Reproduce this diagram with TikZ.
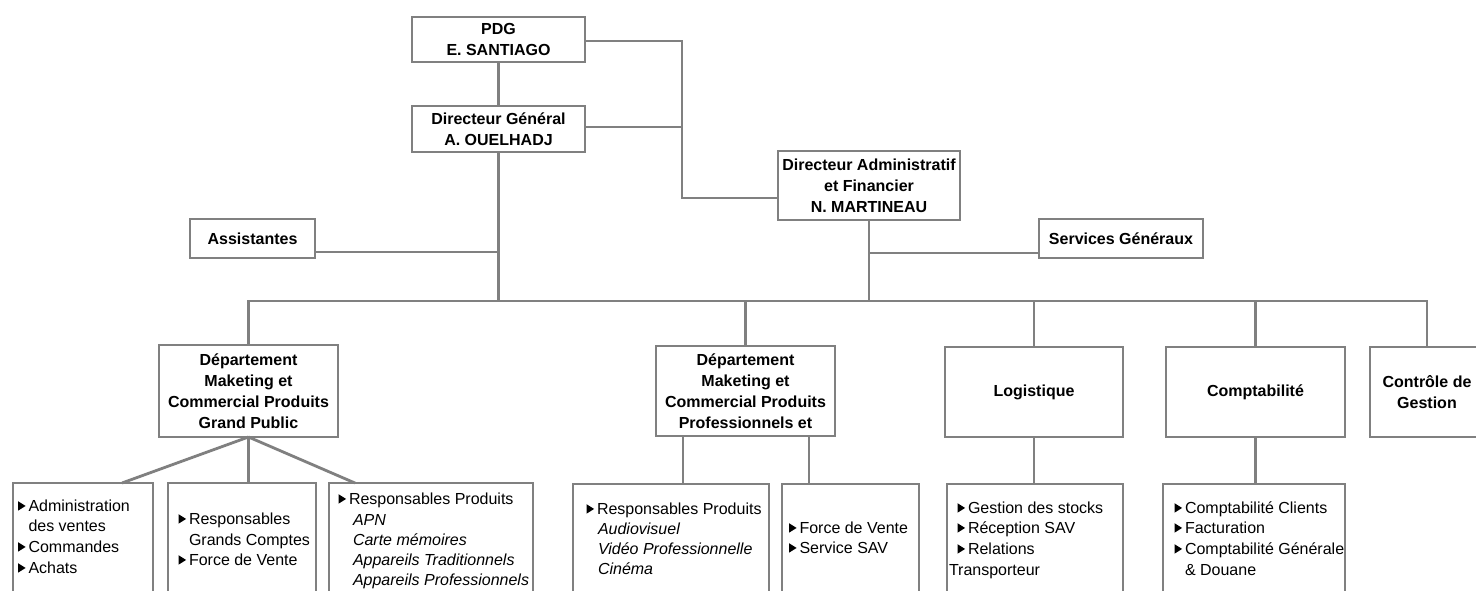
\documentclass[tikz,border=0pt]{standalone}
\usepackage{fontspec}
\setmainfont{Liberation Sans}
\newcommand\bul{\makebox[10.5pt][l]{\tikz[baseline=0pt]\fill[black] (0pt,0.3pt) -- (0pt,9.8pt) -- (7.6pt,5.05pt) -- cycle;}}
\definecolor{lgray}{RGB}{128,128,128}
\tikzset{
  ln/.style={draw=lgray, line width=2.8pt, line join=miter},
  bx/.style={draw=lgray, line width=2.8pt, fill=white, inner sep=0pt, outer sep=0pt,
             align=center, font=\fontsize{16}{21}\selectfont\bfseries},
  sub/.style={draw=lgray, line width=2.8pt, fill=white, inner sep=0pt, outer sep=0pt,
             minimum height=127pt},
  lst/.style={inner sep=0pt, outer sep=0pt, anchor=base west, font=\fontsize{16}{20}\selectfont},
  itl/.style={lst, font=\fontsize{16}{20}\selectfont\itshape},
}
\begin{document}
\begin{tikzpicture}[x=1pt,y=-1pt]
\path[use as bounding box, fill=white] (0,0) rectangle (1476,590);
\clip (0,0) rectangle (1476,590);

% top boxes
\node[bx, minimum width=173pt, minimum height=45pt] (pdg) at (498.5,39.5) {PDG\\E. SANTIAGO};
\node[bx, minimum width=173pt, minimum height=46pt] (dg) at (498.5,129) {Directeur Général\\A. OUELHADJ};
\node[bx, minimum width=182pt, minimum height=69pt] (daf) at (869,185.5) {Directeur Administratif\\et Financier\\N. MARTINEAU};
\node[bx, minimum width=125pt, minimum height=39pt] (ass) at (252.5,238.5) {Assistantes};
\node[bx, minimum width=164pt, minimum height=39pt] (serv) at (1121,238.5) {Services Généraux};

% department boxes
\node[bx, minimum width=179pt, minimum height=92pt] (dgp) at (248.5,391) {Département\\Maketing et\\Commercial Produits\\Grand Public};
\node[bx, minimum width=179pt, minimum height=90pt] (pro) at (745.5,391) {Département\\Maketing et\\Commercial Produits\\Professionnels et};
\node[bx, minimum width=178pt, minimum height=90pt] (log) at (1034,392) {Logistique};
\node[bx, minimum width=179pt, minimum height=90pt] (comp) at (1255.5,392) {Comptabilité};
\node[bx, minimum width=114pt, minimum height=90pt] (ctrl) at (1427,392) {Contrôle de\\Gestion};

% sub boxes
\node[sub, minimum width=140pt] (gp1) at (83,546.5) {};
\node[sub, minimum width=148pt] (gp2) at (242,546.5) {};
\node[sub, minimum width=204pt] (gp3) at (431,546.5) {};
\node[sub, minimum width=196pt] (pra) at (671,547.5) {};
\node[sub, minimum width=137pt] (prb) at (850.5,547.5) {};
\node[sub, minimum width=176pt] (logs) at (1035,547.5) {};
\node[sub, minimum width=182pt] (comps) at (1254,547.5) {};

% connectors
\coordinate (j1) at (682,41);
\coordinate (j2) at (682,127);
\coordinate (j3) at (682,198);
\coordinate (ja) at (498,252);
\coordinate (js) at (869,253);
\coordinate (b0) at (498,301);
\draw[ln] (pdg) -- (dg);
\draw[ln] (pdg.east |- j1) -- (j1) -- (j3) -- (daf.west |- j3);
\draw[ln] (dg.east |- j2) -- (j2);
\draw[ln] (dg.south) -- (dg.south |- b0);
\draw[ln] (ass.east |- ja) -- (dg.south |- ja);
\draw[ln] (daf.south) -- (daf.south |- b0);
\draw[ln] (daf.south |- js) -- (serv.west |- js);
\draw[ln] (dgp.north) -- (dgp.north |- b0) -- (ctrl.north |- b0) -- (ctrl.north);
\draw[ln] (pro.north |- b0) -- (pro.north);
\draw[ln] (log.north |- b0) -- (log.north);
\draw[ln] (comp.north |- b0) -- (comp.north);

\coordinate (t1) at (122,483);
\coordinate (t3) at (355,483);
\draw[ln] (dgp.south) -- (t1);
\draw[ln] (dgp.south) -- (dgp.south |- gp2.north);
\draw[ln] (dgp.south) -- (t3);
\coordinate (xa) at (683,460);
\coordinate (xb) at (809,460);
\draw[ln] (pro.south -| xa) -- (pra.north -| xa);
\draw[ln] (pro.south -| xb) -- (prb.north -| xb);
\draw[ln] (log.south) -- (log.south |- logs.north);
\draw[ln] (comp.south) -- (comp.south |- comps.north);

% list texts
\node[lst] (a1) at (18,511) {\bul Administration};
\node[lst] (a2) at (28.5,531) {des ventes};
\node[lst] (a3) at (18,552) {\bul Commandes};
\node[lst] (a4) at (18,573) {\bul Achats};

\node[lst] (b1) at (178.5,524) {\bul Responsables};
\node[lst] (b2) at (189,545) {Grands Comptes};
\node[lst] (b3) at (178.5,565) {\bul Force de Vente};

\node[lst] (c1) at (338.5,504) {\bul Responsables Produits};
\node[itl] (c2) at (353,525) {APN};
\node[itl] (c3) at (353,545) {Carte mémoires};
\node[itl] (c4) at (353,565) {Appareils Traditionnels};
\node[itl] (c5) at (353,585) {Appareils Professionnels};

\node[lst] (d1) at (586.5,514) {\bul Responsables Produits};
\node[itl] (d2) at (598,534) {Audiovisuel};
\node[itl] (d3) at (598,554) {Vidéo Professionnelle};
\node[itl] (d4) at (598,574) {Cinéma};

\node[lst] (e1) at (789,533) {\bul Force de Vente};
\node[lst] (e2) at (789,553) {\bul Service SAV};

\node[lst] (f1) at (957.5,513) {\bul Gestion des stocks};
\node[lst] (f2) at (957.5,533) {\bul Réception SAV};
\node[lst] (f3) at (957.5,554) {\bul Relations};
\node[lst] (f4) at (949,575) {Transporteur};

\node[lst] (g1) at (1174.5,513) {\bul Comptabilité Clients};
\node[lst] (g2) at (1174.5,533) {\bul Facturation};
\node[lst] (g3) at (1174.5,554) {\bul Comptabilité Générale};
\node[lst] (g4) at (1185,575) {\& Douane};
\end{tikzpicture}
\end{document}
